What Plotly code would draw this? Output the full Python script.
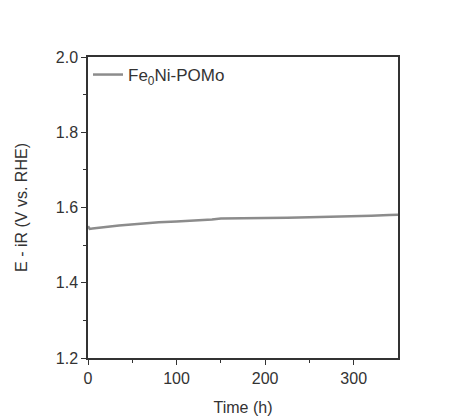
import plotly.graph_objects as go

# Chronopotentiometry stability trace
time_h = [0, 2, 5, 10, 20, 35, 50, 65, 80, 100, 120, 140, 150, 175, 200, 225, 250, 275, 300, 320, 340, 350]
potential_v = [1.550, 1.543, 1.544, 1.546, 1.548, 1.552, 1.555, 1.558, 1.561, 1.563, 1.565, 1.568, 1.571, 1.571,
               1.572, 1.573, 1.574, 1.575, 1.576, 1.578, 1.580, 1.581]
series_name = "Fe<sub>0</sub>Ni-POMo"

axis_color = "#333333"
text_color = "#333333"
font_family = "Liberation Sans, Arial, sans-serif"

fig = go.Figure()
fig.add_trace(go.Scatter(
    x=time_h, y=potential_v, mode="lines", name=series_name,
    line=dict(color="#8c8c8c", width=2.5),
))

common_axis = dict(
    showline=True, linecolor=axis_color, linewidth=1.5, mirror=True,
    ticks="outside", tickcolor=axis_color, ticklen=5, tickwidth=1.2,
    showgrid=False, zeroline=False, automargin=False,
    tickfont=dict(size=16, color=text_color, family=font_family),
)

fig.update_xaxes(
    range=[0, 350], tickvals=[0, 100, 200, 300],
    minor=dict(tickvals=[50, 150, 250], ticks="outside", ticklen=3, tickcolor=axis_color),
    title=dict(text="Time (h)", font=dict(size=16, color=text_color, family=font_family), standoff=16),
    **common_axis,
)
fig.update_yaxes(
    range=[1.2, 2.0], tickvals=[1.2, 1.4, 1.6, 1.8, 2.0], tickformat=".1f",
    minor=dict(tickvals=[1.3, 1.5, 1.7, 1.9], ticks="outside", ticklen=3, tickcolor=axis_color),
    title=dict(text="E - iR (V vs. RHE)", font=dict(size=16, color=text_color, family=font_family), standoff=24),
    **common_axis,
)

fig.update_layout(
    width=451, height=419,
    margin=dict(l=88, r=53, t=57, b=61),
    paper_bgcolor="white", plot_bgcolor="white",
    showlegend=True,
    legend=dict(
        x=0.0, y=1.0, xanchor="left", yanchor="top",
        bgcolor="rgba(0,0,0,0)", borderwidth=0,
        font=dict(size=17, color=text_color, family=font_family),
        itemwidth=30,
    ),
)

fig.write_html("out.html")
